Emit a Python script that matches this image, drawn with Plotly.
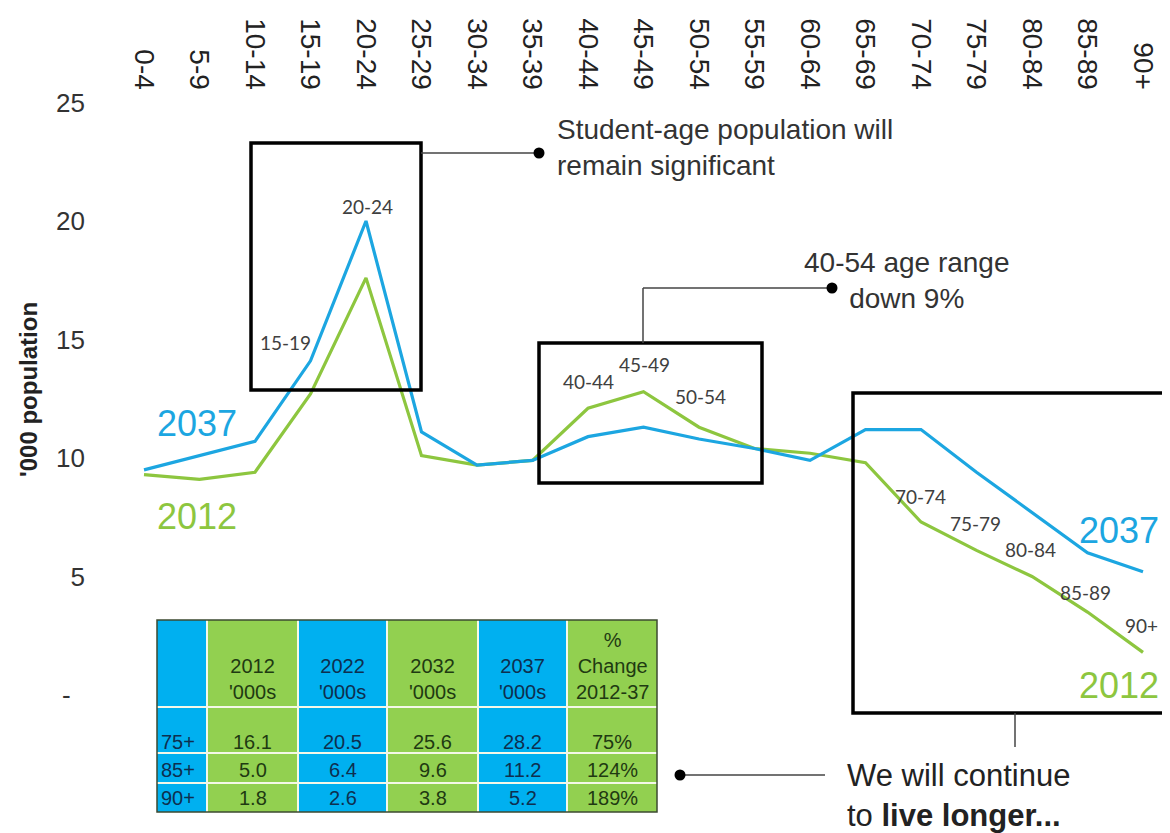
import plotly.graph_objects as go

# ---------------- data ----------------
age_groups = ["0-4", "5-9", "10-14", "15-19", "20-24", "25-29", "30-34", "35-39",
              "40-44", "45-49", "50-54", "55-59", "60-64", "65-69", "70-74",
              "75-79", "80-84", "85-89", "90+"]
pop_2012 = [9.3, 9.1, 9.4, 12.7, 17.6, 10.1, 9.7, 9.9, 12.1, 12.8, 11.3, 10.4,
            10.2, 9.8, 7.3, 6.1, 5.0, 3.5, 1.8]
pop_2037 = [9.5, 10.1, 10.7, 14.1, 20.0, 11.1, 9.7, 9.9, 10.9, 11.3, 10.8, 10.4,
            9.9, 11.2, 11.2, 9.4, 7.7, 6.0, 5.2]

y_tickvals = [0, 5, 10, 15, 20, 25]
y_ticktext = ["-\u00a0\u00a0", "5", "10", "15", "20", "25"]

table_header = ["", "2012<br>'000s", "2022<br>'000s", "2032<br>'000s",
                "2037<br>'000s", "%<br>Change<br>2012-37"]
table_rows = ["75+", "85+", "90+"]
val_2012 = ["16.1", "5.0", "1.8"]
val_2022 = ["20.5", "6.4", "2.6"]
val_2032 = ["25.6", "9.6", "3.8"]
val_2037 = ["28.2", "11.2", "5.2"]
pct_change = ["75%", "124%", "189%"]

# ---------------- styles / geometry ----------------
BLUE = "#1CA6E1"
GREEN = "#8DC63F"
T_BLUE = "#00B0F0"
T_GREEN = "#92D050"
W, H = 1170, 833
OFF = 8                      # page body margin in the browser
L_REF, T_REF = 100, 95       # plot area top-left, in screen pixels
L, T = L_REF - OFF, T_REF - OFF
PW, PH = W - L, H - T
# screen-pixel scale of the axes
X0_PX, DX_PX = 144.0, 55.5   # centre of first category, px per category
Y0_PX, DY_PX = 695.0, 23.7   # y=0 position, px per unit
X_RANGE = [(L_REF - X0_PX) / DX_PX, (L_REF + PW - X0_PX) / DX_PX]
Y_RANGE = [(Y0_PX - (T_REF + PH)) / DY_PX, (Y0_PX - T_REF) / DY_PX]


def px(x):
    return (x - OFF - L) / PW


def py(y):
    return (H - (y - OFF)) / PH


fig = go.Figure()
fig.add_trace(go.Scatter(x=age_groups, y=pop_2012, mode="lines", name="2012",
                         line=dict(color=GREEN, width=3.2), hoverinfo="skip"))
fig.add_trace(go.Scatter(x=age_groups, y=pop_2037, mode="lines", name="2037",
                         line=dict(color=BLUE, width=3.2), hoverinfo="skip"))

shapes = []
annotations = []


def rect(x0, y0, x1, y1, **kw):
    shapes.append(dict(type="rect", xref="paper", yref="paper",
                       x0=px(x0), x1=px(x1), y0=py(y1), y1=py(y0), **kw))


def line(x0, y0, x1, y1, color="#444444", width=1.5):
    shapes.append(dict(type="line", xref="paper", yref="paper",
                       x0=px(x0), x1=px(x1), y0=py(y0), y1=py(y1),
                       line=dict(color=color, width=width)))


def dot(cx, cy, r=5.5):
    shapes.append(dict(type="circle", xref="paper", yref="paper",
                       x0=px(cx - r), x1=px(cx + r), y0=py(cy + r), y1=py(cy - r),
                       fillcolor="black", line=dict(color="black", width=0)))


def text(x, y, s, size=20, color="#333333", family="Liberation Sans, Arial, sans-serif",
         xanchor="center", yanchor="middle", align="center", angle=0):
    annotations.append(dict(xref="paper", yref="paper", x=px(x), y=py(y), text=s,
                            showarrow=False, xanchor=xanchor, yanchor=yanchor,
                            align=align, textangle=angle,
                            font=dict(size=size, color=color, family=family)))


# ---- table ----
col_edges = [157, 207, 298, 387, 478, 567, 657]
row_edges = [620, 707, 753, 783, 812]
col_fill = [T_BLUE, T_GREEN, T_BLUE, T_GREEN, T_BLUE, T_GREEN]
col_text = ["#0E2F4F", "#1F3A12", "#0E2F4F", "#1F3A12", "#0E2F4F", "#1F3A12"]
for i in range(6):
    rect(col_edges[i], row_edges[0], col_edges[i + 1], row_edges[-1],
         fillcolor=col_fill[i], line=dict(width=0), layer="below")
for xe in col_edges[1:-1]:
    line(xe, row_edges[0], xe, row_edges[-1], color="#F4F8E8", width=2)
for ye in row_edges[1:-1]:
    line(col_edges[0], ye, col_edges[-1], ye, color="#F4F8E8", width=2)
rect(col_edges[0], row_edges[0], col_edges[-1], row_edges[-1],
     line=dict(color="#3C4A30", width=1.5))

TFONT = "Liberation Sans, Arial, sans-serif"
for i, h in enumerate(table_header):
    if h:
        cx = (col_edges[i] + col_edges[i + 1]) / 2
        text(cx, row_edges[1] - 2, h, size=20, color=col_text[i], family=TFONT,
             yanchor="bottom")
row_text_y = [742, 770, 798]
columns = [table_rows, val_2012, val_2022, val_2032, val_2037, pct_change]
for ci, col in enumerate(columns):
    for ri, v in enumerate(col):
        if ci == 0:
            text(col_edges[0] + 2, row_text_y[ri], v, size=20, color=col_text[ci],
                 family=TFONT, xanchor="left")
        else:
            cx = (col_edges[ci] + col_edges[ci + 1]) / 2
            text(cx, row_text_y[ri], v, size=20, color=col_text[ci], family=TFONT)

# ---- boxes & callouts ----
BOX = dict(color="black", width=3.5)
rect(251, 143, 421, 390, line=BOX)
rect(539, 343, 762, 483, line=BOX)
rect(853, 393, 1190, 713, line=BOX)

line(421, 153, 539, 153)
dot(539, 153)
line(643, 343, 643, 288)
line(643, 288, 832, 288)
dot(832, 288)
line(1015, 713, 1015, 747)
line(680, 775, 825, 775)
dot(680, 775)

text(555, 147, "Student-age population will<br>remain significant", size=28,
     color="#333333", xanchor="left", align="left")
text(907, 280, "40-54 age range<br>down 9%", size=28, color="#333333")
text(845, 795, "We will continue<br>to <b>live longer...</b>", size=31,
     color="#222222", xanchor="left", align="left")

# series labels
text(155, 424, "2037", size=36, color=BLUE, xanchor="left")
text(155, 517, "2012", size=36, color=GREEN, xanchor="left")
text(1161, 530, "2037", size=36, color=BLUE, xanchor="right")
text(1161, 685, "2012", size=36, color=GREEN, xanchor="right")

# point labels
label_pos = {3: (285, 342), 4: (367, 206), 8: (588, 381), 9: (644, 364),
             10: (700, 396), 14: (920, 496), 15: (975, 523), 16: (1030, 549),
             17: (1085, 592), 18: (1141, 625)}
for idx, (lx, ly) in label_pos.items():
    text(lx, ly, age_groups[idx], size=19, color="#404040",
         family="Lato, Noto Sans, sans-serif")

# y axis title
text(28, 390, "<b>'000 population</b>", size=24, color="#222222", angle=-90)

fig.update_layout(
    width=W, height=H,
    margin=dict(l=L, r=0, t=T, b=0),
    paper_bgcolor="white", plot_bgcolor="white",
    showlegend=False,
    shapes=shapes, annotations=annotations,
    xaxis=dict(type="category", side="top", tickangle=90, range=X_RANGE,
               showgrid=False, zeroline=False, showline=False, ticks="",
               tickfont=dict(size=28, color="#222222",
                             family="Liberation Sans, Arial, sans-serif"),
               fixedrange=True),
    yaxis=dict(range=Y_RANGE, tickvals=y_tickvals, ticktext=y_ticktext,
               showgrid=False, zeroline=False, showline=False, ticks="",
               ticklabelstandoff=14,
               tickfont=dict(size=26, color="#333333",
                             family="Liberation Sans, Arial, sans-serif"),
               fixedrange=True),
)

fig.write_html("out.html")
